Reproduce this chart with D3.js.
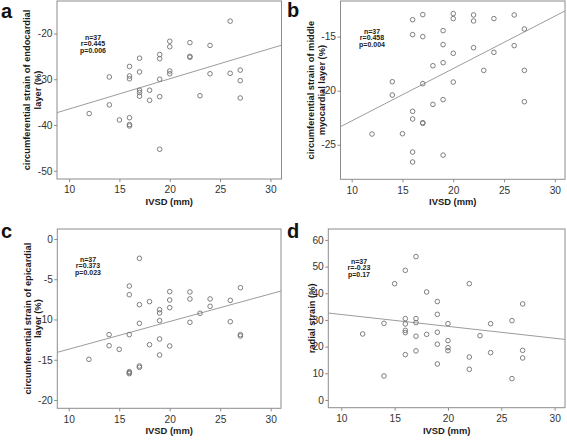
<!DOCTYPE html>
<html><head><meta charset="utf-8">
<script src="https://cdn.jsdelivr.net/npm/d3@7"></script>
<style>
html,body{margin:0;padding:0;background:#fff;}
svg{display:block;}
text{font-family:Arial,"Liberation Sans",sans-serif;}
</style></head>
<body>
<script>
// ---------- data ----------
const xTicks = [10, 15, 20, 25, 30];

const ivsdA = [26,20,20,22,24,19,19,22,22,17,16,17,20,20,24,26,27,14,16,16,19,27,17,18,17,17,23,19,27,18,14,12,15,16,16,16,19];
const endoA = [-17.3,-21.7,-22.9,-22.0,-22.6,-24.6,-25.5,-25.0,-25.2,-25.4,-27.2,-28.4,-28.2,-28.8,-28.8,-28.7,-28.0,-29.5,-29.3,-29.9,-30.0,-30.3,-32.4,-32.4,-32.9,-33.7,-33.6,-33.8,-34.1,-34.6,-35.6,-37.5,-38.9,-38.4,-39.9,-40.2,-45.3];
const yTicksA = [-50, -40, -30, -20];
const fitA = [[8.8, -37.3], [31.1, -22.55]];
const statsA = ["n=37", "r=0.445", "p=0.006"];

const ivsdB = [17,20,22,26,16,20,22,24,27,19,16,17,19,26,22,20,24,19,18,23,27,14,20,17,14,19,27,18,16,16,17,17,12,15,16,19,16];
const midB = [-12.96,-12.87,-12.99,-12.99,-13.43,-13.33,-13.55,-13.33,-14.29,-14.44,-14.81,-15.0,-15.74,-15.83,-16.02,-16.54,-16.45,-17.41,-17.69,-18.12,-18.12,-19.17,-19.20,-19.35,-20.40,-20.83,-21.02,-21.27,-21.91,-22.62,-22.96,-23.02,-24.01,-23.98,-25.68,-25.96,-26.60];
const yTicksB = [-25, -20, -15];
const fitB = [[8.9, -23.33], [31.0, -12.62]];
const statsB = ["n=37", "r=0.458", "p=0.004"];

const ivsdC = [17,16,27,20,22,16,20,22,24,26,18,17,20,24,19,19,23,19,26,22,17,14,16,27,27,19,14,18,20,15,19,12,17,17,16,16,16];
const epiC = [-2.40,-5.84,-6.05,-6.54,-6.58,-6.92,-7.58,-7.45,-7.45,-7.62,-7.78,-8.16,-8.53,-8.36,-8.78,-9.19,-9.23,-10.14,-10.27,-10.35,-10.48,-11.88,-11.88,-11.88,-12.05,-12.42,-13.25,-13.13,-13.29,-13.71,-14.41,-14.95,-15.78,-15.94,-16.48,-16.73,-16.6];
const yTicksC = [-20, -15, -10, -5, 0];
const fitC = [[8.87, -14.08], [31.02, -6.46]];
const statsC = ["n=37", "r=0.373", "p=0.023"];

const ivsdD = [17,16,15,22,18,19,27,19,16,17,26,14,16,17,20,24,16,16,19,12,18,23,17,20,19,20,20,17,27,24,16,22,27,19,22,14,26];
const radialD = [53.75,48.6,43.6,43.6,40.5,36.9,36.0,32.1,30.5,30.5,29.75,28.75,28.5,29.0,28.6,28.6,26.1,25.25,25.4,24.75,24.6,24.1,23.9,22.25,20.9,19.6,18.5,18.4,18.6,17.75,17.0,16.1,15.75,13.5,11.5,9.0,8.0];
const yTicksD = [0, 10, 20, 30, 40, 50, 60];
const fitD = [[8.78, 32.6], [30.97, 22.7]];
const statsD = ["n=37", "r=-0.23", "p=0.17"];

const xLabel = "IVSD (mm)";

// ---------- layout ----------
const panels = [
  {letter:"a", lx:1, ly:18, box:[57,1,281.5,179], xd:[8.8,31.1], yd:[-51.8,-12.9], xs:ivsdA, ys:endoA, yt:yTicksA, fit:fitA, stats:statsA, sx:93, sy:40,
   ylab:["circumferential strain of endocardial","layer (%)"], ylx:[30,40.5]},
  {letter:"b", lx:287, ly:17, box:[340.5,1,565,179.3], xd:[8.9,31.0], yd:[-28.2,-11.7], xs:ivsdB, ys:midB, yt:yTicksB, fit:fitB, stats:statsB, sx:372, sy:34,
   ylab:["circumferential strain of middle","myocardial layer (%)"], ylx:[314,324.5]},
  {letter:"c", lx:1, ly:238, box:[57.3,229,281,408.3], xd:[8.87,31.02], yd:[-21.03,1.24], xs:ivsdC, ys:epiC, yt:yTicksC, fit:fitC, stats:statsC, sx:88, sy:262,
   ylab:["circumferential strain of epicardial","layer (%)"], ylx:[30.5,40.5]},
  {letter:"d", lx:287, ly:238, box:[328.3,229,565,407.7], xd:[8.78,30.97], yd:[-2.9,64.1], xs:ivsdD, ys:radialD, yt:yTicksD, fit:fitD, stats:statsD, sx:359, sy:264,
   ylab:["radial strain (%)"], ylx:[315]}
];

const svg = d3.select("body").append("svg").attr("width",567).attr("height",441);
svg.append("rect").attr("width",567).attr("height",441).attr("fill","#fff");

const boxCol = "#8c8c8c", ptCol = "#707070", lineCol = "#9c9c9c", tickTxt = "#333";

panels.forEach(p => {
  const [x0,y0,x1,y1] = p.box;
  const x = d3.scaleLinear().domain(p.xd).range([x0,x1]);
  const y = d3.scaleLinear().domain(p.yd).range([y1,y0]);
  const g = svg.append("g");

  g.append("rect").attr("x",x0).attr("y",y0).attr("width",x1-x0).attr("height",y1-y0)
    .attr("fill","#fff").attr("stroke",boxCol).attr("stroke-width",1);

  const ax = g.append("g").attr("transform",`translate(0,${y1})`)
    .call(d3.axisBottom(x).tickValues(xTicks).tickSize(3).tickSizeOuter(0).tickPadding(4));
  const ay = g.append("g").attr("transform",`translate(${x0},0)`)
    .call(d3.axisLeft(y).tickValues(p.yt).tickSize(3).tickSizeOuter(0).tickPadding(1.5)
      .tickFormat(d => String(d)));
  [ax, ay].forEach(a => {
    a.select(".domain").remove();
    a.selectAll("line").attr("stroke",boxCol);
    a.selectAll("text").attr("font-size",10.2).attr("fill",tickTxt)
      .attr("font-family","Arial, 'Liberation Sans', sans-serif");
  });

  g.append("line")
    .attr("x1",x(p.fit[0][0])).attr("y1",y(p.fit[0][1]))
    .attr("x2",x(p.fit[1][0])).attr("y2",y(p.fit[1][1]))
    .attr("stroke",lineCol).attr("stroke-width",1);

  g.selectAll("circle.pt").data(p.xs.map((v,i)=>[v,p.ys[i]])).join("circle")
    .attr("class","pt")
    .attr("cx",d=>x(d[0])).attr("cy",d=>y(d[1])).attr("r",2.3)
    .attr("fill","none").attr("stroke",ptCol).attr("stroke-width",0.9);

  p.stats.forEach((s,i)=>{
    g.append("text").attr("x",p.sx).attr("y",p.sy+i*6.4).attr("text-anchor","middle")
      .attr("font-size",7).attr("font-weight","bold").attr("fill","#222").text(s);
  });

  g.append("text").attr("x",(x0+x1)/2).attr("y",y1+26).attr("text-anchor","middle")
    .attr("font-size",9.4).attr("font-weight","bold").attr("fill","#1a1a1a").text(xLabel);

  const ym = (y0+y1)/2;
  p.ylab.forEach((s,i)=>{
    g.append("text").attr("transform",`translate(${p.ylx[i]},${ym}) rotate(-90)`)
      .attr("text-anchor","middle").attr("font-size",9.3).attr("font-weight","bold")
      .attr("fill","#1a1a1a").text(s);
  });

  g.append("text").attr("x",p.lx).attr("y",p.ly).attr("font-size",20).attr("font-weight","bold")
    .attr("fill","#111").text(p.letter);
});
</script>
</body></html>
